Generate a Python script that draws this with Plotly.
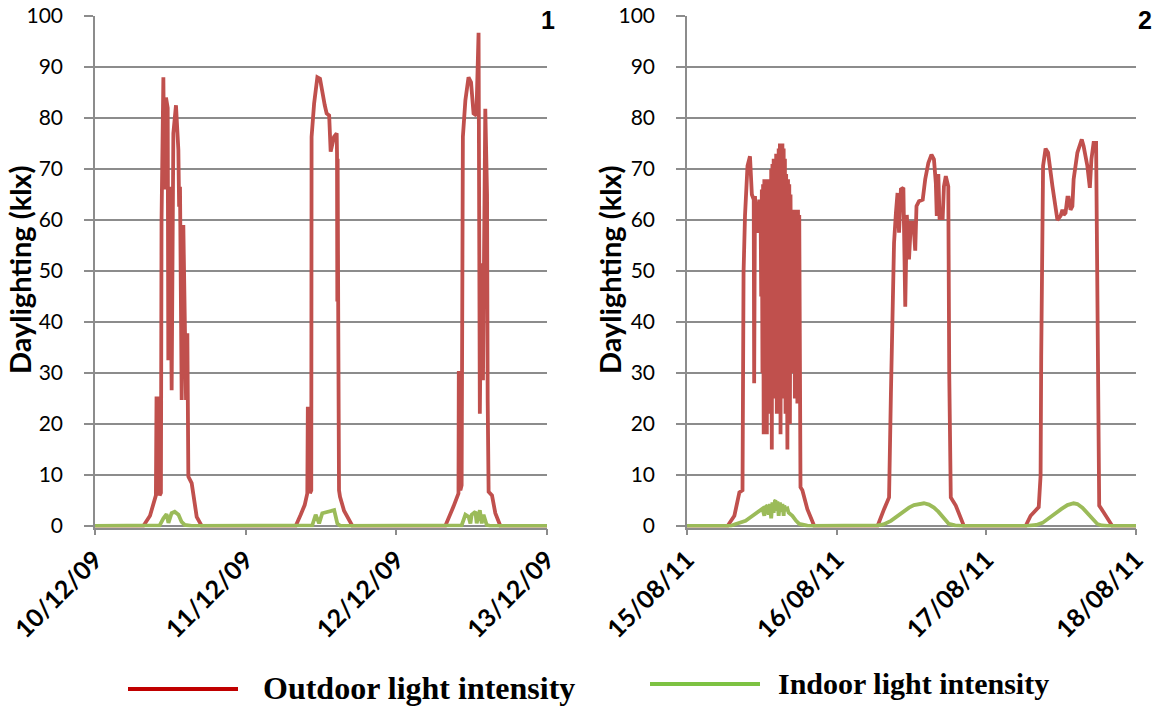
import pandas as pd
import plotly.graph_objects as go

# ---------------- data (hours since panel start, klx) ----------------
LEFT_START = "2009-12-10"
RIGHT_START = "2011-08-15"
LEFT_TICKS = ["2009-12-10", "2009-12-11", "2009-12-12", "2009-12-13"]
RIGHT_TICKS = ["2011-08-15", "2011-08-16", "2011-08-17", "2011-08-18"]
Y_TICKS = [0, 10, 20, 30, 40, 50, 60, 70, 80, 90, 100]
Y_TITLE = "Daylighting (klx)"
PANEL_LABELS = ["1", "2"]
LEGEND_NAMES = ["Outdoor light intensity", "Indoor light intensity"]

left_out_day1 = [(0, 0), (7.7, 0), (8.76, 2), (9.3, 4.5), (9.7, 6), (9.8, 25), (10.2, 25), (10.3, 6),
                 (10.5, 6.5), (10.6, 60), (10.75, 84), (10.89, 88), (11.05, 66), (11.31, 84), (11.58, 82),
                 (11.68, 32.5), (11.95, 66.5), (12.21, 26.6), (12.48, 77), (12.9, 82.5), (13.28, 73.7),
                 (13.4, 62.6), (13.54, 66.5), (13.7, 28.6), (13.81, 24.7), (14.07, 59), (14.5, 24.7),
                 (14.71, 37.8), (14.87, 9.7), (15.4, 8.4), (16.2, 1.8), (17.0, 0)]
left_out_day2 = [(31.97, 0), (32.76, 2.2), (33.4, 4.1), (33.82, 6.4), (33.9, 23), (34.2, 23), (34.25, 6.4),
                 (34.45, 7), (34.5, 76.3), (34.9, 82.8), (35.42, 88), (35.84, 87.7), (36.2, 84.8), (36.6, 82.5),
                 (36.9, 80.9), (37.3, 80.5), (37.54, 73.4), (38.07, 76.3), (38.5, 77), (38.55, 73), (38.6, 44),
                 (38.65, 72), (38.75, 40), (38.87, 7), (39.03, 5.7), (39.67, 3), (41.0, 0)]
left_out_day3 = [(55.8, 0), (57.1, 3.8), (57.9, 6.4), (57.95, 30), (58.15, 30), (58.2, 7), (58.4, 8),
                 (58.6, 76.3), (59.0, 83.5), (59.5, 88), (59.9, 87), (60.3, 80.9), (60.75, 80.5), (61.1, 96.7),
                 (61.3, 22), (61.54, 51.5), (61.8, 28.6), (62.17, 81.8), (62.45, 65), (62.55, 24.7), (62.7, 6.7),
                 (63.24, 6), (63.77, 2.5), (64.57, 0), (72, 0)]

left_in_day1 = [(0, 0), (10.3, 0.1), (10.9, 1.5), (11.4, 2.3), (11.7, 0.6), (12.2, 2.5), (12.7, 2.8),
                (13.3, 2.2), (13.8, 0.8), (14.3, 0.2), (15.4, 0)]
left_in_day2 = [(34.6, 0.1), (35.15, 2.2), (35.7, 0.5), (36.2, 2.5), (37.0, 2.8), (38.1, 3.1), (38.6, 0.5),
                (39.1, 0)]
left_in_day3 = [(58.4, 0.1), (59.0, 2.2), (59.5, 1.8), (59.8, 0.5), (60.0, 2.2), (60.6, 2.8), (60.8, 0.5),
                (61.3, 3.1), (61.6, 0.5), (61.9, 2.2), (62.4, 0.2), (63.0, 0), (72, 0)]

right_out_day1 = [(0, 0), (6.5, 0), (7.6, 2), (8.4, 6.6), (8.9, 7), (9.07, 49.7), (9.3, 60.8), (9.7, 70.6),
                  (10.1, 72.5), (10.4, 65), (10.7, 64), (10.77, 28), (10.9, 64.7), (11.0, 62), (11.3, 57.5),
                  (11.6, 64), (11.8, 62), (11.9, 45), (12.0, 66), (12.1, 30), (12.2, 67), (12.3, 18), (12.4, 68),
                  (12.5, 28), (12.6, 68), (12.7, 40), (12.8, 18), (12.9, 67), (13.0, 30), (13.1, 68), (13.2, 22),
                  (13.3, 68), (13.4, 35), (13.5, 70), (13.6, 15), (13.7, 71), (13.8, 30), (13.9, 72), (14.0, 25),
                  (14.1, 72), (14.2, 40), (14.3, 73), (14.4, 22), (14.5, 72), (14.6, 35), (14.7, 74), (14.8, 28),
                  (14.9, 75), (15.0, 18), (15.1, 74), (15.2, 32), (15.3, 75), (15.4, 25), (15.5, 74), (15.6, 38),
                  (15.7, 72), (15.8, 22), (15.9, 69), (16.0, 30), (16.1, 15), (16.2, 68), (16.3, 30), (16.4, 67),
                  (16.5, 20), (16.6, 65), (16.7, 44), (16.8, 62), (16.9, 30), (17.0, 62), (17.1, 44), (17.2, 61),
                  (17.3, 25), (17.4, 62), (17.5, 44), (17.6, 61), (17.7, 24), (17.8, 62), (17.9, 40), (18.0, 61),
                  (18.2, 7.6), (18.5, 7), (19.3, 3.3), (20.4, 0)]
right_out_day2 = [(30.56, 0), (31.6, 3.3), (32.4, 5.6), (32.7, 26), (32.96, 38.6), (33.2, 55.5), (33.5, 61.4),
                  (33.76, 65.3), (34.0, 57.5), (34.3, 66), (34.7, 66.3), (35.0, 43), (35.25, 61), (35.6, 52.3),
                  (35.9, 59.5), (36.3, 59.5), (36.6, 54), (36.8, 62.7), (37.2, 63.7), (37.8, 64), (38.2, 68),
                  (38.7, 71.2), (39.2, 72.8), (39.6, 71.9), (39.9, 67.3), (40.05, 60.8), (40.3, 69), (40.5, 60.4),
                  (41.0, 60.4), (41.2, 66.6), (41.5, 68.6), (41.9, 66.6), (42.05, 30), (42.3, 5.6), (43.1, 4),
                  (44.4, 0)]
right_out_day3 = [(54.3, 0), (55.1, 2), (56.4, 3.7), (56.7, 9.9), (56.8, 33.4), (57.1, 70.6), (57.5, 74),
                  (57.9, 73.2), (58.6, 66.6), (59.4, 60), (59.9, 60.8), (60.2, 62), (60.4, 61), (60.7, 61.4),
                  (61.0, 64.4), (61.2, 64.4), (61.5, 62), (61.8, 62.7), (62.0, 68), (62.6, 73.2), (63.3, 75.8),
                  (63.6, 74.5), (64.2, 70.6), (64.6, 66.3), (64.85, 71.9), (65.2, 75.1), (65.6, 75.1), (65.8, 51),
                  (66.1, 4), (66.8, 2.7), (68.2, 0), (72, 0)]

right_in_day1 = [(0, 0), (7.0, 0), (7.6, 0.3), (9.4, 1.0), (10.3, 1.8), (11.3, 2.7), (12.1, 3.4), (12.4, 2.0),
                 (12.6, 3.7), (12.9, 4.0), (13.1, 2.2), (13.3, 4.3), (13.5, 1.5), (13.7, 4.6), (13.9, 2.6),
                 (14.1, 4.9), (14.2, 5.0), (14.3, 3.0), (14.5, 4.8), (14.7, 2.0), (14.9, 4.6), (15.1, 2.8),
                 (15.3, 4.3), (15.5, 2.0), (15.6, 4.0), (15.8, 3.2), (16.1, 3.4), (16.3, 2.6), (16.9, 2.0),
                 (17.5, 1.0), (18.0, 0.4), (19.3, 0.05), (20, 0)]
right_in_day2 = [(30.5, 0.1), (31.5, 0.3), (32.7, 1.0), (33.8, 2.0), (34.8, 2.9), (35.6, 3.6), (36.4, 4.1),
                 (37.2, 4.35), (38.0, 4.45), (38.8, 4.2), (39.6, 3.6), (40.3, 2.8), (41.0, 1.9), (41.6, 1.0),
                 (42.0, 0.4), (43.0, 0.1), (44, 0)]
right_in_day3 = [(54.5, 0), (56.0, 0.2), (57.0, 0.6), (58.0, 1.4), (59.0, 2.4), (60.0, 3.3), (61.0, 4.1),
                 (62.0, 4.45), (62.6, 4.3), (63.4, 3.6), (64.2, 2.6), (64.8, 1.8), (65.3, 1.0), (65.8, 0.4),
                 (66.5, 0.1), (67.5, 0), (72, 0)]

# ---------------- styling ----------------
W, H = 1154, 706
RED, GREEN = "#C0504D", "#9BBB59"
LEG_RED, LEG_GREEN = "#C00000", "#7DC242"
GRID = "#8C8C8C"
TICK_FONT = "Lato"


def px_x(p):
    return p / W


def px_y(p):
    return 1 - p / H


def series(start, *days):
    pts = [pt for d in days for pt in d]
    t0 = pd.Timestamp(start)
    xs = [t0 + pd.Timedelta(hours=h) for h, _ in pts]
    ys = [v for _, v in pts]
    return xs, ys


fig = go.Figure()
panels = [
    ("x", "y", LEFT_START, (left_out_day1, left_out_day2, left_out_day3),
     (left_in_day1, left_in_day2, left_in_day3)),
    ("x2", "y2", RIGHT_START, (right_out_day1, right_out_day2, right_out_day3),
     (right_in_day1, right_in_day2, right_in_day3)),
]
for xa, ya, start, outd, ind in panels:
    xo, yo = series(start, *outd)
    xi, yi = series(start, *ind)
    fig.add_trace(go.Scatter(x=xo, y=yo, mode="lines", line=dict(color=RED, width=3.8),
                             xaxis=xa, yaxis=ya, showlegend=False, name=LEGEND_NAMES[0]))
    fig.add_trace(go.Scatter(x=xi, y=yi, mode="lines", line=dict(color=GREEN, width=3.8),
                             xaxis=xa, yaxis=ya, showlegend=False, name=LEGEND_NAMES[1]))

xcommon = dict(type="date", tickformat="%d/%m/%y", dtick=86400000, tickangle=-45,
               ticks="outside", ticklen=6, tickcolor=GRID, tickwidth=1.5, automargin=False,
               showline=True, linecolor=GRID, linewidth=1.5, showgrid=False, zeroline=False,
               tickfont=dict(family=TICK_FONT, size=25, color="black", weight="bold"))
ycommon = dict(range=[-0.3, 100.01], tickmode="array", tickvals=Y_TICKS, ticktext=[str(v) for v in Y_TICKS],
               showgrid=True, gridcolor=GRID, gridwidth=1.5, ticklabeloverflow="allow",
               showline=True, linecolor=GRID, linewidth=1.5, ticks="outside", ticklen=9,
               tickcolor=GRID, tickwidth=1.5, zeroline=False, ticklabelstandoff=17, automargin=False,
               tickfont=dict(family=TICK_FONT, size=21, color="black"))

fig.update_layout(
    width=W, height=H, margin=dict(l=0, r=0, t=0, b=0, autoexpand=False),
    paper_bgcolor="white", plot_bgcolor="white", showlegend=False,
    xaxis=dict(xcommon, domain=[px_x(95), px_x(547)], anchor="y",
               range=[LEFT_TICKS[0], LEFT_TICKS[-1]], tick0=LEFT_TICKS[0]),
    yaxis=dict(ycommon, domain=[px_y(527.5), px_y(16)], anchor="x"),
    xaxis2=dict(xcommon, domain=[px_x(687), px_x(1136)], anchor="y2",
                range=[RIGHT_TICKS[0], RIGHT_TICKS[-1]], tick0=RIGHT_TICKS[0]),
    yaxis2=dict(ycommon, domain=[px_y(527.5), px_y(16)], anchor="x2"),
)

# y-axis titles (placed explicitly so they sit left of the tick labels)
for xc in [19, 609]:
    fig.add_annotation(text=Y_TITLE, xref="paper", yref="paper", x=px_x(xc), y=px_y(270),
                       xanchor="center", yanchor="middle", textangle=-90, showarrow=False,
                       font=dict(family=TICK_FONT, size=29, color="black", weight="bold"))

# panel labels (white box hides the end of the top gridline, as in the original)
for lab, xr, wbox in zip(PANEL_LABELS, [556, 1153], [36, 36]):
    fig.add_annotation(text=lab, xref="paper", yref="paper", x=px_x(xr), y=px_y(20),
                       xanchor="right", yanchor="middle", showarrow=False, width=wbox,
                       align="right", bgcolor="white", borderpad=0,
                       font=dict(family="Liberation Sans", size=25, color="black", weight="bold"))

# legend (drawn manually, two items spread across the bottom)
legend_items = [(LEGEND_NAMES[0], LEG_RED, 128, 238, 689, 262, 32),
                (LEGEND_NAMES[1], LEG_GREEN, 650, 760, 684, 777, 30)]
for text, col, x0, x1, yl, xt, fs in legend_items:
    fig.add_shape(type="line", xref="paper", yref="paper", x0=px_x(x0), x1=px_x(x1),
                  y0=px_y(yl), y1=px_y(yl), line=dict(color=col, width=4))
    fig.add_annotation(text=text, xref="paper", yref="paper", x=px_x(xt), y=px_y(yl - 1),
                       xanchor="left", yanchor="middle", showarrow=False, borderpad=0,
                       font=dict(family="Liberation Serif", size=fs, color="black", weight="bold"))

fig.write_html("out.html", config={"displayModeBar": False},
               post_script="document.body.style.margin='0px';")
